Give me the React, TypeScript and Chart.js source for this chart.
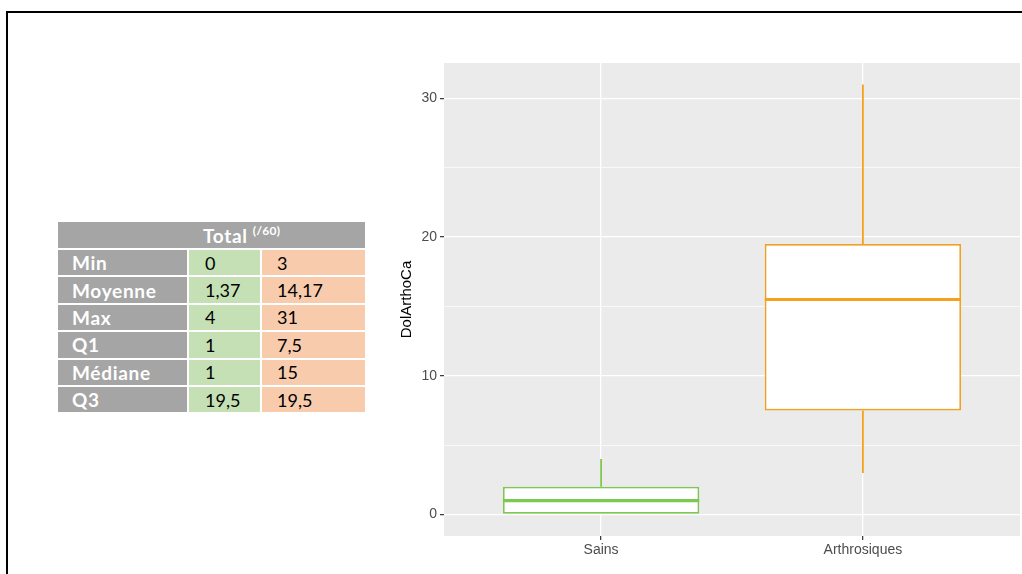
import React, { useEffect, useRef } from "react";
import { Chart, registerables } from "chart.js";

Chart.register(...registerables);

// ---- Boxplot data ----
const CATEGORIES = ["Sains", "Arthrosiques"];
const BOX_MIN = [0, 3];
const BOX_Q1 = [0, 7.5];
const BOX_MEDIAN = [1, 15.5];
const BOX_Q3 = [2, 19.5];
const BOX_MAX = [4, 31];
const GROUP_COLORS = ["#7dc850", "#f4a11d"];
const Y_MAJOR_TICKS = [0, 10, 20, 30];
const Y_MINOR_TICKS = [5, 15, 25];
const Y_TITLE = "DolArthoCa";

// ---- Table data ----
const TABLE_TITLE = "Total";
const TABLE_TITLE_SUP = "(/60)";
const TABLE_ROWS = ["Min", "Moyenne", "Max", "Q1", "Médiane", "Q3"];
const TABLE_SAINS = ["0", "1,37", "4", "1", "1", "19,5"];
const TABLE_ARTHRO = ["3", "14,17", "31", "7,5", "15", "19,5"];

const BOX_HALF_WIDTH = 0.375;
const PANEL_BG = "#ebebeb";

const panelBg = {
  id: "panelBg",
  beforeDraw(chart: any) {
    const { ctx, chartArea } = chart;
    if (!chartArea) return;
    ctx.save();
    ctx.fillStyle = PANEL_BG;
    ctx.fillRect(chartArea.left, chartArea.top, chartArea.right - chartArea.left, chartArea.bottom - chartArea.top);
    ctx.restore();
  },
};

function BoxChart() {
  const ref = useRef<HTMLCanvasElement | null>(null);
  useEffect(() => {
    if (!ref.current) return;
    const positions = CATEGORIES.map((_, i) => i + 1);
    const whiskersLow = positions.map((x, i) => ({
      type: "line",
      data: [{ x, y: BOX_MIN[i] }, { x, y: BOX_Q1[i] }],
      borderColor: GROUP_COLORS[i],
      borderWidth: 1.8,
      pointRadius: 0,
      order: 3,
    }));
    const whiskersHigh = positions.map((x, i) => ({
      type: "line",
      data: [{ x, y: BOX_Q3[i] }, { x, y: BOX_MAX[i] }],
      borderColor: GROUP_COLORS[i],
      borderWidth: 1.8,
      pointRadius: 0,
      order: 3,
    }));
    const medians = positions.map((x, i) => ({
      type: "line",
      data: [
        { x: x - BOX_HALF_WIDTH, y: BOX_MEDIAN[i] },
        { x: x + BOX_HALF_WIDTH, y: BOX_MEDIAN[i] },
      ],
      borderColor: GROUP_COLORS[i],
      borderWidth: 3.2,
      pointRadius: 0,
      order: 0,
    }));
    const boxes = {
      type: "bar",
      data: positions.map((x, i) => ({ x, y: [BOX_Q1[i], BOX_Q3[i]] })),
      backgroundColor: "#ffffff",
      borderColor: GROUP_COLORS,
      borderWidth: 1.8,
      borderSkipped: false,
      barPercentage: 0.75,
      categoryPercentage: 1,
      grouped: false,
      order: 1,
    };

    const isMajor = (v: number) => Y_MAJOR_TICKS.includes(v);

    const chart = new Chart(ref.current, {
      type: "bar",
      data: { datasets: [...whiskersLow, ...whiskersHigh, boxes, ...medians] as any },
      plugins: [panelBg],
      options: {
        animation: false,
        responsive: false,
        maintainAspectRatio: false,
        layout: { padding: { top: 13, right: 2, left: 0, bottom: 0 } },
        plugins: { legend: { display: false }, tooltip: { enabled: false } },
        scales: {
          x: {
            type: "linear",
            min: 0.4,
            max: 2.6,
            offset: false,
            afterBuildTicks: (s: any) => {
              s.ticks = positions.map((v) => ({ value: v }));
            },
            afterFit: (s: any) => {
              s.height = 38;
            },
            grid: {
              offset: false,
              color: "#ffffff",
              lineWidth: 1.3,
              tickColor: "#333333",
              tickLength: 4,
              tickWidth: 1.2,
            },
            border: { display: false },
            ticks: {
              padding: 2,
              color: "#4d4d4d",
              font: { family: "'Liberation Sans', Arial, sans-serif", size: 14 },
              callback: (v: any) => CATEGORIES[Math.round(v) - 1] ?? "",
              autoSkip: false,
              maxRotation: 0,
            },
          },
          y: {
            type: "linear",
            min: -1.55,
            max: 32.55,
            afterBuildTicks: (s: any) => {
              s.ticks = [...Y_MAJOR_TICKS, ...Y_MINOR_TICKS]
                .sort((a, b) => a - b)
                .map((v) => ({ value: v }));
            },
            afterFit: (s: any) => {
              s.width = 49;
            },
            grid: {
              color: "#ffffff",
              lineWidth: (c: any) => (isMajor(c.tick?.value) ? 1.3 : 0.7),
              tickColor: (c: any) => (isMajor(c.tick?.value) ? "#333333" : "rgba(0,0,0,0)"),
              tickLength: 4,
              tickWidth: 1.2,
            },
            border: { display: false },
            title: {
              display: true,
              text: Y_TITLE,
              color: "#000000",
              font: { family: "'Liberation Sans', Arial, sans-serif", size: 15 },
              padding: { top: 3, bottom: 0 },
            },
            ticks: {
              padding: 3,
              color: "#4d4d4d",
              font: { family: "'Liberation Sans', Arial, sans-serif", size: 14 },
              callback: (v: any) => (isMajor(v) ? String(v) : ""),
              autoSkip: false,
            },
          },
        },
      } as any,
    });
    return () => chart.destroy();
  }, []);
  return (
    <canvas
      ref={ref}
      width={627}
      height={524}
      style={{ position: "absolute", left: 395, top: 50, width: 627, height: 524 }}
    />
  );
}

function StatsTable() {
  const font = "Lato, 'Open Sans', sans-serif";
  const cell: React.CSSProperties = {
    display: "flex",
    alignItems: "center",
    fontFamily: font,
    fontSize: 18,
    lineHeight: 1,
    boxSizing: "border-box",
  };
  const label: React.CSSProperties = {
    ...cell,
    background: "#a5a5a5",
    color: "#ffffff",
    fontWeight: 700,
    fontSize: 19,
    letterSpacing: 0.7,
    paddingLeft: 14,
  };
  return (
    <div
      style={{
        position: "absolute",
        left: 58,
        top: 222,
        width: 307,
        display: "grid",
        gridTemplateColumns: "129px 71px 103px",
        gridTemplateRows: "26px repeat(6, 25.4px)",
        columnGap: 2,
        rowGap: 2,
        background: "#ffffff",
      }}
    >
      <div style={{ ...label, gridColumn: "1 / span 3", paddingLeft: 145 }}>
        {TABLE_TITLE}
        <sup style={{ fontSize: 12, letterSpacing: 0.3, marginLeft: 5, alignSelf: "flex-start", marginTop: 3 }}>
          {TABLE_TITLE_SUP}
        </sup>
      </div>
      {TABLE_ROWS.map((r, i) => (
        <React.Fragment key={r}>
          <div style={label}>{r}</div>
          <div style={{ ...cell, background: "#c5e0b4", color: "#000000", paddingLeft: 16 }}>{TABLE_SAINS[i]}</div>
          <div style={{ ...cell, background: "#f8cbad", color: "#000000", paddingLeft: 15 }}>{TABLE_ARTHRO[i]}</div>
        </React.Fragment>
      ))}
    </div>
  );
}

export default function App() {
  return (
    <div style={{ position: "fixed", left: 0, top: 0, width: 1022, height: 574, overflow: "hidden", background: "#ffffff" }}>
      <div
        style={{
          position: "absolute",
          left: 6,
          top: 11,
          width: 1100,
          height: 700,
          border: "2px solid #000000",
          boxSizing: "border-box",
        }}
      />
      <StatsTable />
      <BoxChart />
    </div>
  );
}
